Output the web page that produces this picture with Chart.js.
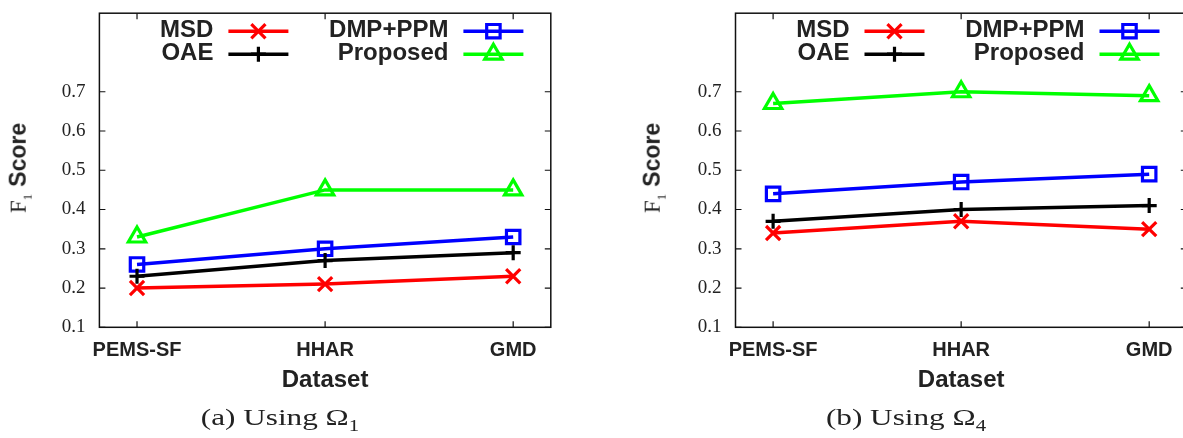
<!DOCTYPE html>
<html>
<head>
<meta charset="utf-8">
<script src="https://cdn.jsdelivr.net/npm/chart.js@4.4.0/dist/chart.umd.min.js"></script>
<style>
  html, body { margin: 0; padding: 0; background: #fff; overflow: hidden; width: 1183px; height: 438px; }
  .pane { position: absolute; top: 0; }
  .ylab { position: absolute; top: 168px; white-space: nowrap; color: #222;
          transform: translate(-50%, -50%) rotate(-90deg); }
  .ylab .f { font-family: 'Liberation Serif', serif; font-size: 23px; }
  .ylab .f sub { font-size: 13px; }
  .ylab .s { font-family: 'Liberation Sans', Arial, sans-serif; font-weight: bold; font-size: 23px; margin-left: 7px; }
  .cap { position: absolute; top: 405px; white-space: nowrap; color: #222; line-height: 1;
         font-family: 'Liberation Serif', serif; font-size: 24px; transform: translateX(-50%) scaleX(1.3); }
  .cap sub { font-size: 16px; }
</style>
</head>
<body>
<canvas id="chartO1" class="pane" style="left:0px" width="600" height="438"></canvas>
<canvas id="chartO4" class="pane" style="left:600px" width="600" height="438"></canvas>
<div class="ylab" style="left:20px"><span class="f">F<sub>1</sub></span><span class="s">Score</span></div>
<div class="ylab" style="left:654px"><span class="f">F<sub>1</sub></span><span class="s">Score</span></div>
<div class="cap" style="left:280px">(a) Using Ω<sub>1</sub></div>
<div class="cap" style="left:906px">(b) Using Ω<sub>4</sub></div>
<script>
// data
const categories = ['PEMS-SF', 'HHAR', 'GMD'];
const seriesNames = ['MSD', 'OAE', 'DMP+PPM', 'Proposed'];
const yTicks = [0.1, 0.2, 0.3, 0.4, 0.5, 0.6, 0.7];

// (a) Using Omega_1
const msdO1 = [0.20, 0.21, 0.23];
const oaeO1 = [0.23, 0.27, 0.29];
const dmpO1 = [0.26, 0.30, 0.33];
const proposedO1 = [0.33, 0.45, 0.45];

// (b) Using Omega_4
const msdO4 = [0.34, 0.37, 0.35];
const oaeO4 = [0.37, 0.40, 0.41];
const dmpO4 = [0.44, 0.47, 0.49];
const proposedO4 = [0.67, 0.70, 0.69];

const seriesStyles = [
    { color: '#ff0000', pointStyle: 'crossRot', radius: 10 },
    { color: '#000000', pointStyle: 'cross', radius: 7.5 },
    { color: '#0000ff', pointStyle: 'rect', radius: 9.5 },
    { color: '#00ff00', pointStyle: 'triangle', radius: 10 }
];
const textColor = '#222';

function makeDatasets(seriesList) {
    return seriesList.map((vals, i) => ({
        label: seriesNames[i],
        data: vals.map((v, j) => ({ x: j, y: v })),
        borderColor: seriesStyles[i].color,
        backgroundColor: 'rgba(0,0,0,0)',
        borderWidth: 3.5,
        pointStyle: seriesStyles[i].pointStyle,
        pointRadius: seriesStyles[i].radius,
        pointBorderWidth: 3.2,
        pointBorderColor: seriesStyles[i].color,
        pointBackgroundColor: 'rgba(0,0,0,0)',
        tension: 0,
        clip: false
    }));
}

// gnuplot-ish frame, inward ticks and two-column key
const framePlugin = {
    id: 'frame',
    afterDatasetsDraw(chart) {
        const { ctx, chartArea: a, scales } = chart;
        ctx.save();
        ctx.strokeStyle = '#111';
        ctx.lineWidth = 1.5;
        ctx.strokeRect(a.left, a.top, a.right - a.left, a.bottom - a.top);
        ctx.lineWidth = 1.2;
        ctx.beginPath();
        yTicks.forEach(v => {
            const py = scales.y.getPixelForValue(v);
            ctx.moveTo(a.left, py); ctx.lineTo(a.left + 6, py);
            ctx.moveTo(a.right, py); ctx.lineTo(a.right - 6, py);
        });
        categories.forEach((c, i) => {
            const px = scales.x.getPixelForValue(i);
            ctx.moveTo(px, a.bottom); ctx.lineTo(px, a.bottom - 6);
            ctx.moveTo(px, a.top); ctx.lineTo(px, a.top + 6);
        });
        ctx.stroke();

        // key
        const textEnds = [114, 349];
        const rows = [18, 41];
        ctx.font = 'bold 24px "Liberation Sans", Arial, sans-serif';
        ctx.textAlign = 'right';
        ctx.textBaseline = 'alphabetic';
        chart.data.datasets.forEach((ds, i) => {
            const col = Math.floor(i / 2), row = i % 2;
            const tx = a.left + textEnds[col];
            const ry = a.top + rows[row];
            ctx.fillStyle = textColor;
            ctx.fillText(ds.label, tx, ry + 6);
            const x0 = tx + 15, x1 = x0 + 60;
            ctx.strokeStyle = ds.borderColor;
            ctx.lineWidth = ds.borderWidth;
            ctx.beginPath();
            ctx.moveTo(x0, ry); ctx.lineTo(x1, ry);
            ctx.stroke();
            ctx.fillStyle = 'rgba(0,0,0,0)';
            ctx.lineWidth = ds.pointBorderWidth;
            Chart.helpers.drawPoint(ctx, {
                pointStyle: ds.pointStyle, radius: ds.pointRadius, rotation: 0, borderWidth: ds.pointBorderWidth
            }, (x0 + x1) / 2, ry);
        });
        ctx.restore();
    }
};

function buildChart(canvasId, seriesList, area) {
    const canvas = document.getElementById(canvasId);
    const yWidth = 60, xHeight = 70;
    return new Chart(canvas, {
        type: 'line',
        data: { datasets: makeDatasets(seriesList) },
        options: {
            responsive: false,
            animation: false,
            devicePixelRatio: 1,
            layout: {
                padding: {
                    left: area.left - yWidth,
                    right: canvas.width - area.right,
                    top: area.top,
                    bottom: canvas.height - area.bottom - xHeight
                }
            },
            plugins: { legend: { display: false }, tooltip: { enabled: false } },
            scales: {
                x: {
                    type: 'linear',
                    min: -0.2,
                    max: 2.2,
                    grid: { display: false, drawTicks: false },
                    border: { display: false },
                    afterBuildTicks: s => { s.ticks = categories.map((c, i) => ({ value: i })); },
                    afterFit: s => { s.height = xHeight; s.paddingLeft = 0; s.paddingRight = 0; },
                    ticks: {
                        padding: 11,
                        color: textColor,
                        maxRotation: 0,
                        autoSkip: false,
                        font: { family: '"Liberation Sans", Arial, sans-serif', weight: 'bold', size: 20 },
                        callback: v => categories[v]
                    },
                    title: {
                        display: true,
                        text: 'Dataset',
                        color: textColor,
                        padding: { top: 0, bottom: 3 },
                        font: { family: '"Liberation Sans", Arial, sans-serif', weight: 'bold', size: 24 }
                    }
                },
                y: {
                    min: 0.1,
                    max: 0.9,
                    grid: { display: false, drawTicks: false },
                    border: { display: false },
                    afterBuildTicks: s => { s.ticks = yTicks.map(v => ({ value: v })); },
                    afterFit: s => { s.width = yWidth; s.paddingTop = 0; s.paddingBottom = 0; },
                    ticks: {
                        padding: 14,
                        color: textColor,
                        font: { family: '"Liberation Serif", "Times New Roman", serif', size: 19 },
                        callback: v => v.toFixed(1)
                    }
                }
            }
        },
        plugins: [framePlugin]
    });
}

buildChart('chartO1', [msdO1, oaeO1, dmpO1, proposedO1], { left: 99.4, right: 550.8, top: 9.5, bottom: 327.3 });
buildChart('chartO4', [msdO4, oaeO4, dmpO4, proposedO4], { left: 135.5, right: 587.7, top: 9.5, bottom: 327.3 });
</script>
</body>
</html>
